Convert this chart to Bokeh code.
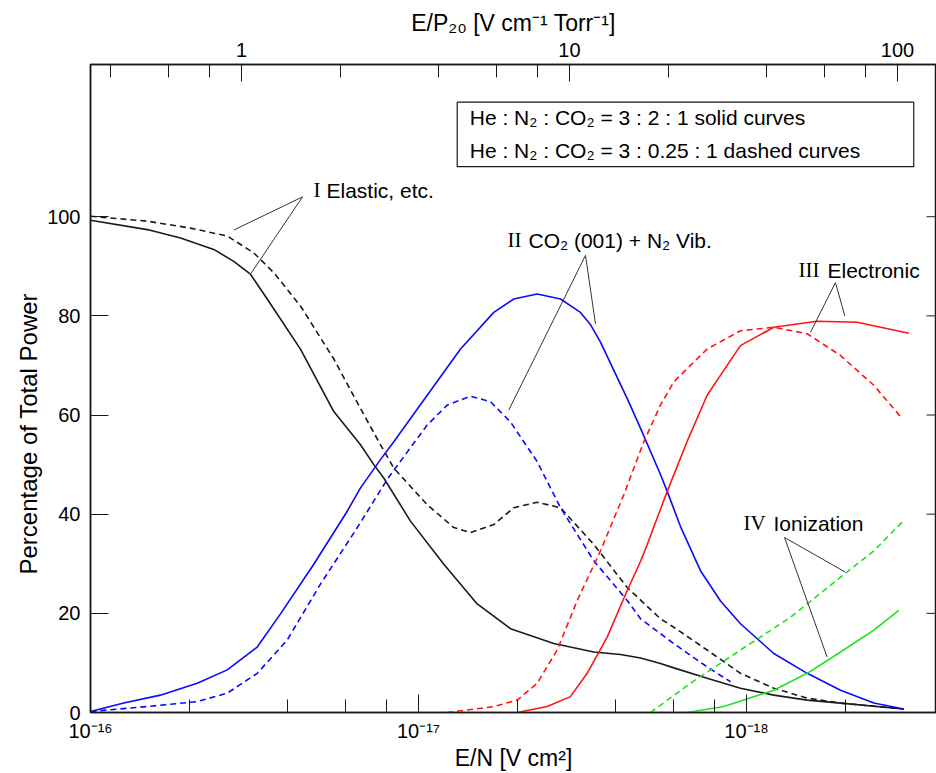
import math
from bokeh.plotting import figure
from bokeh.models import Range1d, LogAxis, FixedTicker, BoxAnnotation, Label, LogScale, Title
from bokeh.embed import file_html
from bokeh.resources import INLINE

# x: E/P20 [V cm^-1 Torr^-1], y: percentage of total power
# "_a" = He:N2:CO2 = 3:2:1 (solid), "_b" = He:N2:CO2 = 3:0.25:1 (dashed)
elastic_a_x = [0.3465, 0.516, 0.652, 0.823, 0.947, 1.065, 1.198, 1.513, 1.912, 2.306, 2.532, 2.715,
               3.275, 4.139, 5.231, 6.609, 8.956, 11.86, 14.30, 16.47, 18.94, 20.80, 26.28, 33.21,
               41.97, 53.05, 67.04, 104.5]
elastic_a_y = [99.3, 97.4, 95.7, 93.4, 91.0, 88.4, 83.4, 73.3, 60.7, 54.0, 50.0, 47.3,
               38.6, 29.9, 21.9, 16.9, 13.9, 12.2, 11.7, 11.0, 9.9, 9.0, 6.9, 4.9,
               3.5, 2.5, 1.9, 0.7]

elastic_b_x = [0.3465, 0.516, 0.699, 0.905, 1.090, 1.255, 1.513, 1.912, 2.306, 2.653, 2.913, 3.684,
               4.440, 4.991, 5.878, 6.764, 7.972, 9.389, 11.86, 15.00, 18.94, 20.80, 26.28, 33.21,
               41.97, 53.05, 67.04, 104.5]
elastic_b_y = [100.1, 99.1, 97.7, 96.1, 92.7, 88.7, 82.0, 71.3, 61.3, 54.0, 49.3, 41.9,
               37.3, 36.3, 37.9, 41.3, 42.4, 41.3, 33.9, 25.2, 18.9, 17.2, 12.6, 7.9,
               4.9, 2.9, 1.9, 0.7]

vib_a_x = [0.3465, 0.4377, 0.566, 0.733, 0.905, 1.117, 1.315, 1.661, 2.101, 2.306, 2.653, 2.913,
           3.684, 4.653, 5.878, 6.764, 7.972, 9.389, 10.80, 11.60, 12.43, 15.00, 16.47, 18.94,
           19.86, 21.80, 25.08, 28.87, 33.21, 41.97, 53.05, 67.04, 84.69, 104.5]
vib_a_y = [0.2, 1.9, 3.5, 5.9, 8.6, 13.2, 19.9, 29.9, 40.6, 45.3, 51.0, 54.6,
           64.0, 73.3, 80.7, 83.4, 84.4, 83.4, 80.7, 78.2, 74.7, 63.3, 57.3, 48.0,
           44.6, 37.5, 28.6, 22.5, 17.9, 11.9, 7.9, 4.5, 1.9, 0.7]

vib_b_x = [0.3465, 0.516, 0.733, 0.905, 1.117, 1.378, 1.741, 2.23, 2.80, 3.684, 4.238, 4.991,
           5.743, 6.609, 7.972, 9.389, 11.86, 15.00, 16.47, 20.80, 26.28, 30.97]
vib_b_y = [0.2, 1.2, 2.2, 3.9, 7.9, 14.6, 25.9, 36.8, 47.3, 58.0, 62.0, 63.8,
           62.7, 58.6, 50.6, 41.3, 30.6, 22.6, 18.9, 13.9, 9.2, 6.2]

elec_a_x = [6.927, 8.551, 10.07, 11.32, 13.03, 15.00, 16.47, 17.26, 18.94, 19.86, 22.85, 26.28,
            29.54, 33.21, 41.97, 56.91, 75.38, 108.3]
elec_a_y = [0.0, 1.2, 3.2, 7.9, 15.2, 24.6, 30.5, 33.9, 41.0, 44.6, 54.7, 64.0,
            69.0, 74.0, 77.7, 78.9, 78.7, 76.5]

elec_b_x = [4.238, 5.878, 6.927, 7.972, 9.173, 10.56, 12.43, 14.64, 16.85, 18.94, 20.80, 26.28,
            33.21, 41.97, 53.05, 67.04, 84.69, 102.1]
elec_b_y = [0.0, 1.2, 2.5, 5.9, 12.6, 22.6, 32.6, 43.9, 54.6, 62.0, 66.7, 73.3,
            77.0, 77.7, 76.4, 72.0, 66.0, 59.7]

ion_a_x = [22.85, 29.54, 41.97, 53.05, 67.04, 84.69, 100.9]
ion_a_y = [0.0, 1.2, 4.5, 7.9, 12.2, 16.6, 20.6]

ion_b_x = [17.66, 23.38, 33.21, 47.19, 67.04, 84.69, 104.5]
ion_b_y = [0.0, 5.9, 12.6, 19.2, 27.3, 32.6, 38.7]

# axis ticks
ep_major = [1, 10, 100]
ep_minor = [0.4, 0.6, 0.8, 2, 4, 6, 8, 20, 40, 60, 80]
en_major = [1, 10, 100]
en_minor = [2, 4, 6, 8, 20, 40, 60, 80, 200]
en_labels = ["10⁻¹⁶", "10⁻¹⁷", "10⁻¹⁸"]
pct_ticks = [0, 20, 40, 60, 80, 100]

SANS = "Liberation Sans"
SERIF = "Liberation Serif"
BLACK = "#1a1a1a"
BLUE = "#0a0aff"
RED = "#ff1414"
GREEN = "#22e022"
DASH = "6 4"
TEXT_SIZE = "21px"
X_MAX = 131.5

p = figure(width=936, height=773, x_axis_type="log", x_axis_location="above",
           x_range=Range1d(0.3465, X_MAX), y_range=Range1d(0, 130.7),
           output_backend="svg", toolbar_location=None,
           min_border_left=90, min_border_right=0, min_border_top=64, min_border_bottom=57)
p.background_fill_color = "white"
p.border_fill_color = "white"
p.outline_line_color = BLACK
p.outline_line_width = 1.5
p.grid.visible = False

# E/N scale below, sharing the frame with E/P20
p.extra_x_ranges = {"en": Range1d(1, 379.7)}
p.extra_x_scales = {"en": LogScale()}


def style_axis(ax, major_in, minor_in):
    ax.axis_line_color = BLACK
    ax.axis_line_width = 1.5
    ax.major_tick_in = major_in
    ax.major_tick_out = 0
    ax.minor_tick_in = minor_in
    ax.minor_tick_out = 0
    ax.major_tick_line_color = BLACK
    ax.minor_tick_line_color = BLACK
    ax.major_tick_line_width = 1
    ax.minor_tick_line_width = 1
    ax.major_label_text_font = SANS
    ax.major_label_text_font_size = "20px"
    ax.major_label_text_color = "black"
    ax.axis_label_text_font = SANS
    ax.axis_label_text_font_size = "23px"
    ax.axis_label_text_font_style = "normal"
    ax.axis_label_text_color = "black"


top = p.above[0]
top.ticker = FixedTicker(ticks=ep_major, minor_ticks=ep_minor)
top.major_label_overrides = {v: str(v) for v in ep_major}
top.axis_label = "E/P₂₀ [V cm⁻¹ Torr⁻¹]"
style_axis(top, 17, 13)
top.major_label_standoff = 8
top.axis_label_standoff = 4

bottom = LogAxis(x_range_name="en", ticker=FixedTicker(ticks=en_major, minor_ticks=en_minor))
bottom.major_label_overrides = dict(zip(en_major, en_labels))
bottom.axis_label = "E/N [V cm²]"
style_axis(bottom, 18, 13)
bottom.major_label_standoff = 7
bottom.axis_label_standoff = 0
p.add_layout(bottom, "below")

left = p.left[0]
left.ticker = FixedTicker(ticks=pct_ticks)
style_axis(left, 18, 0)
left.major_label_standoff = 10

# y-axis title: starts a little above the bottom of the frame
p.add_layout(Title(text="Percentage of Total Power", align="left", offset=138,
                   text_font=SANS, text_font_size="24px", text_font_style="normal",
                   text_color="black", standoff=6), "left")

# inward ticks along the right edge of the frame
p.ray(x=[X_MAX] * (len(pct_ticks) - 1), y=pct_ticks[1:], length=10, length_units="screen",
      angle=math.pi, line_color=BLACK, line_width=1)

# curves
series = [
    (elastic_a_x, elastic_a_y, BLACK, "solid"),
    (elastic_b_x, elastic_b_y, BLACK, DASH),
    (vib_a_x, vib_a_y, BLUE, "solid"),
    (vib_b_x, vib_b_y, BLUE, DASH),
    (elec_a_x, elec_a_y, RED, "solid"),
    (elec_b_x, elec_b_y, RED, DASH),
    (ion_a_x, ion_a_y, GREEN, "solid"),
    (ion_b_x, ion_b_y, GREEN, DASH),
]
for xs, ys, color, dash in series:
    p.line(xs, ys, line_color=color, line_width=1.6, line_dash=dash)

# leader lines: apex next to the label, then one arm to each curve
leaders = [
    ((1.535, 104.0), [(0.947, 97.3), (1.070, 88.6)]),
    ((11.19, 92.2), [(6.53, 61.0), (12.0, 78.4)]),
    ((64.7, 86.7), [(54.3, 76.7), (69.1, 80.0)]),
    ((45.24, 35.3), [(69.4, 28.3), (61.0, 11.2)]),
]
for (ax_, ay_), arms in leaders:
    for bx, by in arms:
        p.line([ax_, bx], [ay_, by], line_color="#333333", line_width=1)

# process labels: Roman numeral in serif, description in sans
labels = [
    (1.658, 105.3, "I", 13, "Elastic, etc."),
    (6.47, 95.3, "II", 21, "CO₂ (001) + N₂ Vib."),
    (49.9, 89.2, "III", 29, "Electronic"),
    (33.93, 38.2, "IV", 30, "Ionization"),
]
for x, y, num, off, txt in labels:
    p.add_layout(Label(x=x, y=y, text=num, text_font=SERIF, text_font_size=TEXT_SIZE,
                       text_color="black", text_baseline="alphabetic"))
    p.add_layout(Label(x=x, y=y, x_offset=off, text=txt, text_font=SANS, text_font_size=TEXT_SIZE,
                       text_color="black", text_baseline="alphabetic"))

# mixture key
p.add_layout(BoxAnnotation(left=4.547, right=112.1, bottom=110.1, top=123.1,
                           fill_color="white", fill_alpha=1.0,
                           line_color=BLACK, line_width=1.2, line_alpha=1.0))
key_lines = ["He : N₂ : CO₂ = 3 : 2 : 1 solid curves",
             "He : N₂ : CO₂ = 3 : 0.25 : 1 dashed curves"]
for y, txt in zip([120.0, 113.4], key_lines):
    p.add_layout(Label(x=4.966, y=y, text=txt, text_font=SANS, text_font_size=TEXT_SIZE,
                       text_color="black", text_baseline="alphabetic"))

open("out.html", "w").write(file_html(p, INLINE))
